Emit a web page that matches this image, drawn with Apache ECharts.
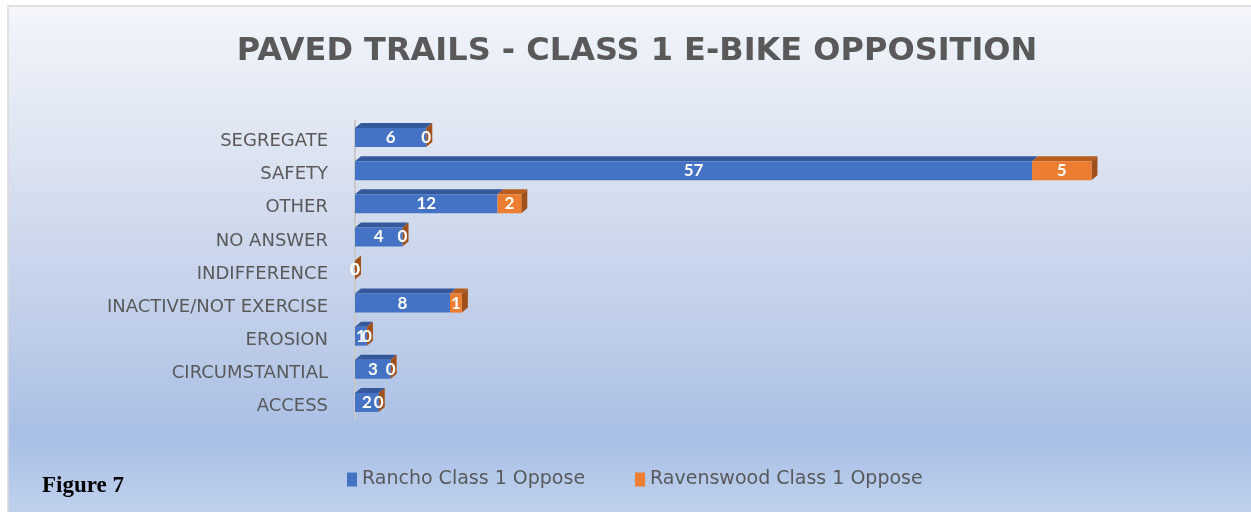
<!DOCTYPE html>
<html>
<head>
<meta charset="utf-8">
<script src="https://cdn.jsdelivr.net/npm/echarts@6/dist/echarts.min.js"></script>
<style>
  html, body { margin: 0; padding: 0; background: #fff; }
  #chart { width: 1251px; height: 512px; }
</style>
</head>
<body>
<div id="chart"></div>
<script>
  const categories = ['SEGREGATE', 'SAFETY', 'OTHER', 'NO ANSWER', 'INDIFFERENCE',
    'INACTIVE/NOT EXERCISE', 'EROSION', 'CIRCUMSTANTIAL', 'ACCESS'];
  const rancho = [6, 57, 12, 4, 0, 8, 1, 3, 2];
  const ravenswood = [0, 5, 2, 0, 0, 1, 0, 0, 0];
  const seriesNames = ['Rancho Class 1 Oppose', 'Ravenswood Class 1 Oppose'];

  const BAR_H = 19;
  const DX = 6;
  const DY = 5;

  const chart = echarts.init(document.getElementById('chart'));

  // top and side faces of the 3d bars
  const renderDepth = (params, api) => {
    const i = api.value(0);
    const a = api.value(1);
    const b = api.value(2);
    const p0 = api.coord([0, i]);
    const x0 = p0[0];
    const x1 = api.coord([a, i])[0];
    const x2 = api.coord([a + b, i])[0];
    const yTop = p0[1] - BAR_H / 2;
    const yBot = p0[1] + BAR_H / 2;
    const face = (pts, color) => ({
      type: 'polygon',
      shape: { points: pts },
      style: { fill: color },
    });
    return {
      type: 'group',
      children: [
        face([[x0, yTop], [x1, yTop], [x1 + DX, yTop - DY], [x0 + DX, yTop - DY]], '#34589a'),
        face([[x1, yTop], [x2, yTop], [x2 + DX, yTop - DY], [x1 + DX, yTop - DY]], '#b95d1f'),
        face([[x2, yTop], [x2 + DX, yTop - DY], [x2 + DX, yBot - DY], [x2, yBot]], '#a2501a'),
      ],
    };
  };

  const labelStyle = {
    show: true,
    position: 'inside',
    color: '#ffffff',
    fontFamily: 'Lato',
    fontWeight: 'bold',
    fontSize: 17,
  };

  chart.setOption({
    backgroundColor: '#ffffff',
    animation: false,
    title: {
      text: 'PAVED TRAILS - CLASS 1 E-BIKE OPPOSITION',
      left: 632,
      textAlign: 'center',
      top: 31,
      textStyle: {
        color: '#595959',
        fontFamily: 'DejaVu Sans',
        fontWeight: 'bold',
        fontSize: 32,
      },
    },
    graphic: [
      {
        type: 'rect',
        z: -10,
        silent: true,
        shape: { x: 8, y: 6, width: 1260, height: 520 },
        style: {
          stroke: '#d9d9d9',
          lineWidth: 1.5,
          fill: new echarts.graphic.LinearGradient(0, 0, 0, 1, [
            { offset: 0, color: '#f6f8fc' },
            { offset: 0.05, color: '#eef2fa' },
            { offset: 0.28, color: '#dde4f1' },
            { offset: 0.48, color: '#cad6ec' },
            { offset: 0.64, color: '#bdcce8' },
            { offset: 0.83, color: '#a9bfe6' },
            { offset: 1, color: '#c3d4ee' },
          ]),
        },
      },
      {
        type: 'text',
        left: 42,
        top: 475,
        style: {
          text: 'Figure 7',
          fill: '#000000',
          font: 'bold 23px "Liberation Serif"',
        },
      },
    ],
    legend: {
      data: seriesNames,
      left: 347,
      top: 470,
      padding: 0,
      icon: 'rect',
      itemWidth: 10,
      itemHeight: 14,
      itemGap: 50,
      textStyle: {
        color: '#595959',
        fontFamily: 'DejaVu Sans',
        fontSize: 19,
      },
    },
    grid: {
      left: 355,
      right: 17,
      top: 121,
      bottom: 93,
      containLabel: false,
    },
    xAxis: {
      type: 'value',
      min: 0,
      max: 74,
      show: false,
    },
    yAxis: {
      type: 'category',
      data: categories,
      inverse: true,
      offset: 5,
      axisLine: { show: true, lineStyle: { color: '#c9c9c9', width: 2 } },
      axisTick: { show: false },
      axisLabel: {
        color: '#595959',
        fontFamily: 'DejaVu Sans',
        fontSize: 18,
        margin: 22,
        verticalAlign: 'top',
        lineHeight: 8,
      },
    },
    series: [
      {
        name: 'depth',
        type: 'custom',
        renderItem: renderDepth,
        data: categories.map((c, i) => [i, rancho[i], ravenswood[i]]),
        encode: { x: [1, 2], y: 0 },
        silent: true,
        z: 1,
      },
      {
        name: seriesNames[0],
        type: 'bar',
        stack: 'total',
        data: rancho,
        barWidth: BAR_H,
        itemStyle: { color: '#4472c4' },
        label: labelStyle,
        z: 3,
      },
      {
        name: seriesNames[1],
        type: 'bar',
        stack: 'total',
        data: ravenswood,
        barWidth: BAR_H,
        itemStyle: { color: '#ed7d31' },
        label: labelStyle,
        z: 3,
      },
    ],
  });
</script>
</body>
</html>
